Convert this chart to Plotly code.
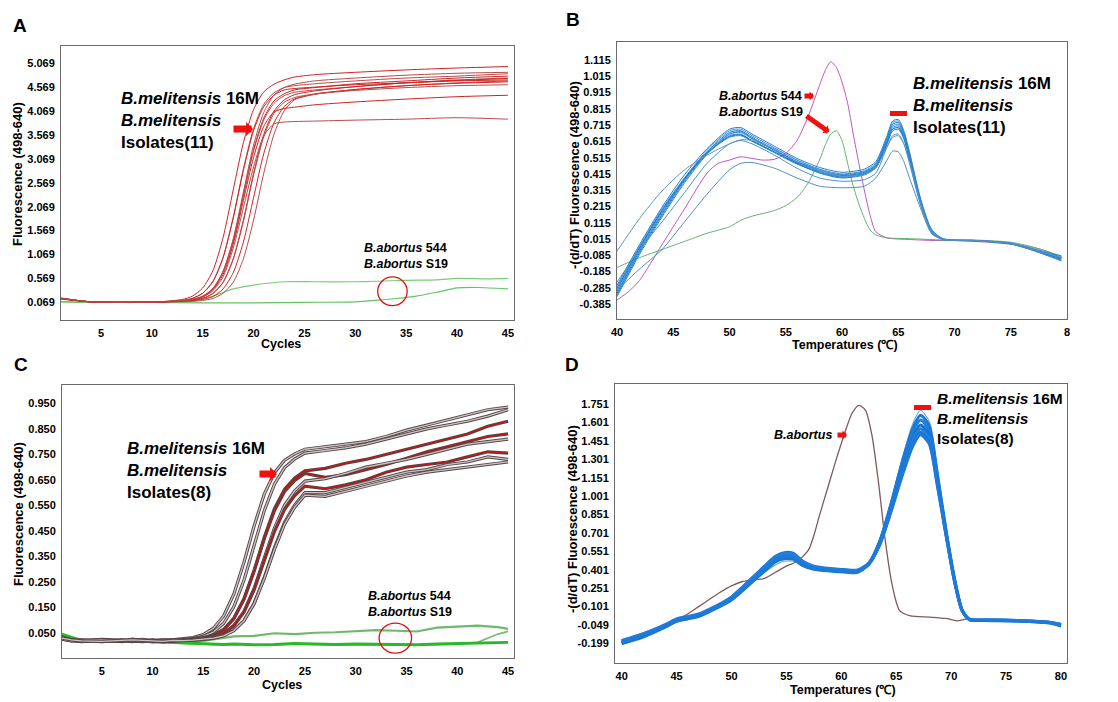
import plotly.graph_objects as go

W, H = 1118, 702
FONT = "Liberation Sans, Arial, sans-serif"

# ---------------- Panel A : amplification curves ----------------
a_cycles = [1, 4, 8, 11, 13, 14, 15, 16, 17, 18, 19, 20, 21, 22, 23, 24, 26, 30, 35, 40, 45]
a_melitensis = [
    [0.15, 0.08, 0.07, 0.085, 0.13, 0.20, 0.37, 0.73, 1.42, 2.42, 3.41, 4.10, 4.47, 4.63, 4.72, 4.78, 4.83, 4.88, 4.93, 4.97, 5.00],
    [0.16, 0.08, 0.07, 0.08, 0.11, 0.155, 0.26, 0.51, 1.01, 1.85, 2.86, 3.70, 4.21, 4.45, 4.56, 4.60, 4.64, 4.70, 4.76, 4.80, 4.85],
    [0.15, 0.075, 0.07, 0.08, 0.10, 0.13, 0.195, 0.35, 0.71, 1.36, 2.32, 3.27, 3.92, 4.28, 4.43, 4.51, 4.56, 4.64, 4.70, 4.76, 4.80],
    [0.14, 0.08, 0.07, 0.085, 0.10, 0.13, 0.19, 0.35, 0.70, 1.35, 2.29, 3.23, 3.88, 4.23, 4.39, 4.46, 4.51, 4.58, 4.66, 4.72, 4.76],
    [0.15, 0.08, 0.065, 0.08, 0.09, 0.11, 0.15, 0.26, 0.49, 0.98, 1.79, 2.77, 3.58, 4.07, 4.30, 4.41, 4.49, 4.58, 4.66, 4.71, 4.75],
    [0.16, 0.075, 0.07, 0.08, 0.09, 0.11, 0.15, 0.25, 0.48, 0.97, 1.76, 2.73, 3.53, 4.02, 4.25, 4.35, 4.43, 4.52, 4.60, 4.66, 4.70],
    [0.15, 0.08, 0.07, 0.08, 0.09, 0.10, 0.13, 0.19, 0.35, 0.69, 1.33, 2.26, 3.18, 3.82, 4.16, 4.32, 4.42, 4.52, 4.60, 4.65, 4.68],
    [0.14, 0.08, 0.07, 0.08, 0.085, 0.09, 0.11, 0.15, 0.26, 0.49, 0.98, 1.79, 2.77, 3.58, 4.07, 4.30, 4.42, 4.50, 4.56, 4.60, 4.62],
    [0.15, 0.08, 0.07, 0.08, 0.11, 0.15, 0.26, 0.50, 1.00, 1.83, 2.83, 3.66, 4.16, 4.40, 4.51, 4.54, 4.57, 4.62, 4.66, 4.70, 4.72],
    [0.16, 0.08, 0.07, 0.085, 0.10, 0.13, 0.20, 0.36, 0.72, 1.40, 2.38, 3.36, 4.04, 4.40, 4.56, 4.63, 4.70, 4.76, 4.82, 4.86, 4.88],
    [0.15, 0.08, 0.07, 0.08, 0.10, 0.12, 0.18, 0.33, 0.65, 1.28, 2.20, 3.10, 3.75, 4.05, 4.12, 4.15, 4.20, 4.26, 4.32, 4.37, 4.40],
    [0.15, 0.08, 0.07, 0.08, 0.10, 0.12, 0.18, 0.31, 0.60, 1.20, 2.05, 2.90, 3.55, 3.80, 3.84, 3.85, 3.86, 3.88, 3.90, 3.93, 3.90],
]
a_544_cycles = [1, 4, 8, 11, 13, 14, 16, 18, 20, 23, 26, 30, 32, 35, 38, 40, 43, 45]
a_544 = [0.08, 0.07, 0.07, 0.075, 0.09, 0.12, 0.20, 0.35, 0.43, 0.50, 0.50, 0.50, 0.51, 0.53, 0.54, 0.57, 0.56, 0.57]
a_s19_cycles = [1, 5, 10, 15, 20, 25, 30, 32, 34, 36, 38, 40, 42, 45]
a_s19 = [0.08, 0.07, 0.07, 0.06, 0.06, 0.07, 0.08, 0.11, 0.15, 0.20, 0.28, 0.37, 0.38, 0.35]
a_yticks = [5.069, 4.569, 4.069, 3.569, 3.069, 2.569, 2.069, 1.569, 1.069, 0.569, 0.069]
a_xticks = [5, 10, 15, 20, 25, 30, 35, 40, 45]

# ---------------- Panel B : melting curves ----------------
b_temps = [40, 42, 44, 46, 48, 50, 51, 52, 54, 56, 58, 60, 62, 63, 64, 64.5, 65, 65.5, 66, 67, 68, 69, 72, 75, 77, 79.5]
b_melitensis = [
    [-0.27, -0.02, 0.21, 0.41, 0.57, 0.69, 0.70, 0.66, 0.585, 0.51, 0.455, 0.425, 0.445, 0.49, 0.65, 0.74, 0.75, 0.68, 0.55, 0.26, 0.07, 0.017, 0.006, -0.01, -0.045, -0.09],
    [-0.30, -0.04, 0.19, 0.39, 0.56, 0.68, 0.69, 0.65, 0.575, 0.50, 0.445, 0.415, 0.435, 0.48, 0.64, 0.73, 0.74, 0.67, 0.54, 0.25, 0.065, 0.015, 0.005, -0.012, -0.05, -0.10],
    [-0.32, -0.06, 0.17, 0.38, 0.55, 0.67, 0.68, 0.64, 0.565, 0.49, 0.44, 0.405, 0.425, 0.47, 0.63, 0.72, 0.73, 0.66, 0.53, 0.245, 0.06, 0.013, 0.004, -0.014, -0.052, -0.11],
    [-0.28, -0.03, 0.20, 0.39, 0.55, 0.66, 0.67, 0.63, 0.56, 0.485, 0.43, 0.40, 0.42, 0.465, 0.62, 0.71, 0.72, 0.65, 0.52, 0.24, 0.06, 0.014, 0.005, -0.012, -0.048, -0.095],
    [-0.33, -0.07, 0.16, 0.37, 0.54, 0.65, 0.66, 0.62, 0.55, 0.48, 0.425, 0.395, 0.415, 0.46, 0.61, 0.70, 0.71, 0.645, 0.515, 0.235, 0.055, 0.012, 0.004, -0.015, -0.055, -0.115],
    [-0.31, -0.05, 0.18, 0.38, 0.54, 0.64, 0.65, 0.615, 0.545, 0.475, 0.425, 0.40, 0.42, 0.46, 0.60, 0.69, 0.70, 0.64, 0.51, 0.23, 0.055, 0.013, 0.005, -0.013, -0.05, -0.10],
    [-0.29, -0.04, 0.19, 0.385, 0.545, 0.645, 0.655, 0.62, 0.55, 0.48, 0.42, 0.39, 0.41, 0.455, 0.60, 0.68, 0.69, 0.63, 0.50, 0.225, 0.05, 0.012, 0.004, -0.014, -0.05, -0.105],
    [-0.34, -0.08, 0.15, 0.36, 0.535, 0.66, 0.675, 0.635, 0.56, 0.49, 0.435, 0.41, 0.43, 0.47, 0.615, 0.69, 0.70, 0.64, 0.51, 0.235, 0.055, 0.012, 0.004, -0.016, -0.056, -0.12],
    [-0.06, 0.14, 0.31, 0.44, 0.53, 0.60, 0.625, 0.62, 0.57, 0.50, 0.44, 0.40, 0.41, 0.45, 0.58, 0.64, 0.65, 0.60, 0.49, 0.23, 0.055, 0.013, 0.005, -0.012, -0.05, -0.10],
    [-0.30, -0.17, -0.05, 0.12, 0.29, 0.44, 0.48, 0.485, 0.45, 0.39, 0.34, 0.33, 0.34, 0.39, 0.50, 0.555, 0.55, 0.49, 0.39, 0.20, 0.045, 0.012, 0.005, -0.012, -0.05, -0.10],
    [-0.25, -0.05, 0.12, 0.30, 0.48, 0.60, 0.62, 0.60, 0.53, 0.45, 0.39, 0.37, 0.38, 0.42, 0.58, 0.65, 0.66, 0.60, 0.48, 0.22, 0.05, 0.012, 0.005, -0.012, -0.05, -0.10],
]
b_544_temps = [40, 41, 42, 44, 46, 48, 49, 50, 51, 52, 53, 54, 55, 56, 57, 58, 58.5, 59, 59.5, 60, 60.5, 61, 61.5, 62, 62.5, 63, 64, 66, 68, 70, 73, 76, 78, 79.5]
b_544 = [-0.36, -0.31, -0.24, -0.02, 0.20, 0.42, 0.48, 0.50, 0.52, 0.51, 0.50, 0.505, 0.54, 0.62, 0.77, 0.96, 1.05, 1.105, 1.07, 0.98, 0.85, 0.66, 0.48, 0.31, 0.16, 0.06, 0.022, 0.012, 0.006, 0.005, -0.005, -0.025, -0.055, -0.10]
b_s19_temps = [40, 42, 44, 46, 48, 50, 51, 52, 54, 55, 56, 57, 58, 58.5, 59, 59.5, 60, 60.5, 61, 61.5, 62, 62.5, 63, 64, 66, 69, 72, 75, 77, 79.5]
b_s19 = [-0.16, -0.10, -0.05, 0.0, 0.05, 0.09, 0.13, 0.155, 0.19, 0.22, 0.27, 0.36, 0.50, 0.59, 0.66, 0.68, 0.62, 0.48, 0.34, 0.23, 0.14, 0.07, 0.04, 0.022, 0.017, 0.009, 0.008, -0.005, -0.035, -0.09]
b_yticks = [1.115, 1.015, 0.915, 0.815, 0.715, 0.615, 0.515, 0.415, 0.315, 0.215, 0.115, 0.015, -0.085, -0.185, -0.285, -0.385]
b_xticks = [40, 45, 50, 55, 60, 65, 70, 75, 80]
b_xticktext = ["40", "45", "50", "55", "60", "65", "70", "75", "8"]

# ---------------- Panel C : amplification curves ----------------
c_cycles = [1, 2, 3, 5, 7, 8, 9, 10, 11, 12, 13, 14, 15, 16, 17, 18, 19, 20, 21, 22, 23, 24, 25, 27, 29, 31, 33, 35, 37, 39, 41, 43, 45]
c_melitensis = [
    [0.030, 0.020, 0.018, 0.022, 0.015, 0.025, 0.020, 0.015, 0.018, 0.022, 0.025, 0.031, 0.043, 0.068, 0.116, 0.201, 0.326, 0.469, 0.594, 0.678, 0.727, 0.752, 0.770, 0.78, 0.79, 0.80, 0.82, 0.845, 0.865, 0.885, 0.905, 0.925, 0.935],
    [0.035, 0.022, 0.015, 0.020, 0.018, 0.022, 0.016, 0.020, 0.014, 0.020, 0.022, 0.027, 0.036, 0.053, 0.087, 0.152, 0.256, 0.393, 0.529, 0.633, 0.698, 0.732, 0.755, 0.765, 0.775, 0.79, 0.81, 0.83, 0.85, 0.865, 0.88, 0.90, 0.925],
    [0.025, 0.020, 0.022, 0.018, 0.020, 0.015, 0.022, 0.018, 0.020, 0.020, 0.022, 0.025, 0.030, 0.041, 0.063, 0.107, 0.183, 0.295, 0.425, 0.537, 0.613, 0.657, 0.685, 0.695, 0.715, 0.73, 0.75, 0.77, 0.79, 0.81, 0.83, 0.86, 0.88],
    [0.030, 0.018, 0.020, 0.015, 0.022, 0.020, 0.018, 0.022, 0.015, 0.018, 0.021, 0.025, 0.030, 0.040, 0.062, 0.105, 0.181, 0.291, 0.419, 0.529, 0.604, 0.648, 0.675, 0.66, 0.67, 0.69, 0.71, 0.735, 0.76, 0.78, 0.80, 0.82, 0.83],
    [0.028, 0.022, 0.018, 0.020, 0.016, 0.020, 0.024, 0.018, 0.020, 0.016, 0.020, 0.022, 0.026, 0.033, 0.048, 0.078, 0.134, 0.224, 0.343, 0.461, 0.551, 0.607, 0.645, 0.655, 0.675, 0.70, 0.715, 0.73, 0.75, 0.77, 0.79, 0.80, 0.81],
    [0.032, 0.020, 0.016, 0.024, 0.020, 0.018, 0.015, 0.020, 0.022, 0.020, 0.020, 0.022, 0.026, 0.033, 0.047, 0.077, 0.131, 0.218, 0.333, 0.447, 0.534, 0.588, 0.625, 0.615, 0.63, 0.65, 0.68, 0.70, 0.71, 0.72, 0.74, 0.76, 0.755],
    [0.026, 0.018, 0.020, 0.022, 0.018, 0.020, 0.018, 0.016, 0.020, 0.018, 0.019, 0.021, 0.024, 0.029, 0.039, 0.059, 0.098, 0.166, 0.267, 0.383, 0.484, 0.552, 0.600, 0.60, 0.62, 0.64, 0.66, 0.68, 0.69, 0.71, 0.72, 0.74, 0.73],
    [0.030, 0.022, 0.018, 0.016, 0.020, 0.022, 0.020, 0.018, 0.016, 0.020, 0.019, 0.021, 0.024, 0.029, 0.038, 0.058, 0.097, 0.164, 0.263, 0.377, 0.476, 0.543, 0.590, 0.585, 0.605, 0.625, 0.645, 0.665, 0.68, 0.69, 0.70, 0.71, 0.72],
]
c_highlight = [False, False, True, True, False, True, False, False]
c_green_cycles = [1, 3, 5, 8, 10, 12, 14, 15, 16, 17, 18, 20, 22, 24, 26, 28, 30, 32, 34, 36, 38, 40, 42, 44, 45]
c_544 = [0.04, 0.02, 0.015, 0.02, 0.012, 0.015, 0.012, 0.018, 0.025, 0.032, 0.036, 0.038, 0.048, 0.045, 0.05, 0.052, 0.055, 0.06, 0.058, 0.055, 0.07, 0.075, 0.078, 0.072, 0.065]
c_s19 = [0.045, 0.02, 0.015, 0.02, 0.015, 0.012, 0.01, 0.008, 0.005, 0.004, 0.006, 0.003, 0.004, 0.008, 0.006, 0.004, 0.006, 0.005, 0.004, 0.003, 0.006, 0.008, 0.010, 0.012, 0.012]
c_s19_b = [0.04, 0.018, 0.012, 0.018, 0.012, 0.010, 0.008, 0.006, 0.004, 0.003, 0.005, 0.002, 0.003, 0.006, 0.005, 0.003, 0.005, 0.004, 0.003, 0.002, 0.004, 0.006, 0.012, 0.045, 0.055]
c_yticks = [0.950, 0.850, 0.750, 0.650, 0.550, 0.450, 0.350, 0.250, 0.150, 0.050]
c_xticks = [5, 10, 15, 20, 25, 30, 35, 40, 45]

# ---------------- Panel D : melting curves ----------------
d_temps = [40, 42, 44, 45, 46, 47, 48, 50, 52, 53, 54, 54.8, 55.6, 56.5, 57.5, 59, 60.5, 61.5, 62.5, 63.5, 64.5, 65.5, 66.5, 67.2, 68, 68.7, 69.5, 70.3, 71, 71.7, 73, 76, 79, 80]
d_melitensis = [
    [-0.19, -0.13, -0.055, -0.01, 0.01, 0.03, 0.07, 0.165, 0.31, 0.38, 0.44, 0.47, 0.47, 0.44, 0.415, 0.40, 0.39, 0.39, 0.456, 0.643, 0.951, 1.292, 1.589, 1.70, 1.611, 1.237, 0.753, 0.33, 0.075, -0.005, -0.01, -0.014, -0.03, -0.05],
    [-0.18, -0.12, -0.05, -0.005, 0.015, 0.035, 0.075, 0.18, 0.345, 0.43, 0.51, 0.54, 0.535, 0.47, 0.43, 0.41, 0.40, 0.40, 0.455, 0.635, 0.93, 1.265, 1.55, 1.66, 1.575, 1.21, 0.74, 0.33, 0.075, -0.005, -0.008, -0.012, -0.028, -0.045],
    [-0.19, -0.13, -0.055, -0.01, 0.01, 0.03, 0.07, 0.17, 0.33, 0.41, 0.49, 0.52, 0.515, 0.455, 0.42, 0.40, 0.39, 0.39, 0.452, 0.628, 0.917, 1.238, 1.517, 1.62, 1.538, 1.186, 0.731, 0.325, 0.07, -0.005, -0.01, -0.014, -0.03, -0.05],
    [-0.20, -0.14, -0.06, -0.015, 0.005, 0.025, 0.065, 0.16, 0.32, 0.40, 0.475, 0.50, 0.495, 0.44, 0.41, 0.395, 0.385, 0.385, 0.445, 0.615, 0.895, 1.205, 1.475, 1.58, 1.50, 1.16, 0.72, 0.32, 0.07, -0.005, -0.012, -0.016, -0.032, -0.055],
    [-0.175, -0.12, -0.045, 0.0, 0.02, 0.04, 0.08, 0.175, 0.34, 0.42, 0.50, 0.53, 0.525, 0.465, 0.425, 0.405, 0.395, 0.395, 0.449, 0.614, 0.887, 1.19, 1.453, 1.55, 1.472, 1.141, 0.712, 0.312, 0.068, -0.003, -0.008, -0.012, -0.026, -0.045],
    [-0.20, -0.145, -0.065, -0.02, 0.0, 0.02, 0.06, 0.155, 0.31, 0.39, 0.465, 0.49, 0.487, 0.435, 0.405, 0.39, 0.38, 0.38, 0.447, 0.608, 0.875, 1.169, 1.426, 1.52, 1.444, 1.122, 0.704, 0.31, 0.068, -0.007, -0.012, -0.017, -0.034, -0.058],
    [-0.185, -0.125, -0.05, -0.005, 0.015, 0.035, 0.07, 0.165, 0.325, 0.405, 0.485, 0.51, 0.505, 0.45, 0.415, 0.398, 0.388, 0.388, 0.446, 0.605, 0.866, 1.155, 1.407, 1.50, 1.426, 1.108, 0.698, 0.31, 0.068, -0.004, -0.01, -0.013, -0.029, -0.048],
]
d_abortus_temps = [40, 42, 44, 45, 46, 47, 48, 49, 50, 51, 52, 53, 54, 55, 56, 57, 57.5, 58, 58.5, 59, 59.5, 60, 60.5, 61, 61.6, 62.2, 62.8, 63.4, 64, 64.6, 65.3, 66.3, 68, 69.5, 70.5, 71.5, 73, 76, 79, 80]
d_abortus = [-0.19, -0.13, -0.055, -0.01, 0.04, 0.10, 0.16, 0.22, 0.27, 0.305, 0.32, 0.33, 0.38, 0.43, 0.47, 0.56, 0.68, 0.84, 0.99, 1.14, 1.29, 1.43, 1.566, 1.68, 1.74, 1.70, 1.49, 1.10, 0.64, 0.29, 0.07, 0.025, 0.015, 0.004, -0.015, 0.0, -0.01, -0.014, -0.03, -0.05]
d_yticks = [1.751, 1.601, 1.451, 1.301, 1.151, 1.001, 0.851, 0.701, 0.551, 0.401, 0.251, 0.101, -0.049, -0.199]
d_xticks = [40, 45, 50, 55, 60, 65, 70, 75, 80]

# ---------------- build figure ----------------
fig = go.Figure()

def line(x, y, xa, ya, color, width, shape="spline"):
    fig.add_trace(go.Scatter(x=x, y=y, xaxis=xa, yaxis=ya, mode="lines",
                             line=dict(color=color, width=width, shape=shape, smoothing=0.7 if shape == "spline" else None),
                             hoverinfo="skip", showlegend=False))

# A
line(a_544_cycles, a_544, "x", "y", "rgb(120,205,120)", 1.2)
line(a_s19_cycles, a_s19, "x", "y", "rgb(100,195,100)", 1.2)
for i, ys in enumerate(a_melitensis):
    line(a_cycles, ys, "x", "y", "rgb(205,35,35)" if i % 2 == 0 else "rgb(185,75,75)", 1)

# B
line(b_544_temps, b_544, "x2", "y2", "rgb(190,85,200)", 1)
line(b_s19_temps, b_s19, "x2", "y2", "rgb(95,180,110)", 1)
b_cols = ["rgb(30,125,210)", "rgb(60,145,205)", "rgb(25,115,205)", "rgb(70,150,210)",
          "rgb(35,130,215)", "rgb(50,140,200)", "rgb(20,120,210)", "rgb(45,135,210)",
          "rgb(95,150,195)", "rgb(85,140,190)", "rgb(75,145,200)"]
for ys, col in zip(b_melitensis, b_cols):
    line(b_temps, ys, "x2", "y2", col, 1)

# C
line(c_green_cycles, c_544, "x3", "y3", "rgb(110,185,110)", 2.2, "linear")
line(c_green_cycles, c_s19_b, "x3", "y3", "rgb(120,190,120)", 1.8, "linear")
line(c_green_cycles, c_s19, "x3", "y3", "rgb(40,185,40)", 2.8, "linear")
for ys, hl in zip(c_melitensis, c_highlight):
    line(c_cycles, ys, "x3", "y3", "rgb(85,70,72)", 3.2, "linear")
    line(c_cycles, ys, "x3", "y3", "rgb(200,20,20)" if hl else "rgb(205,195,195)", 1.3, "linear")

# D
line(d_abortus_temps, d_abortus, "x4", "y4", "rgb(125,90,92)", 1.3)
d_cols = ["rgb(120,165,200)", "rgb(25,120,215)", "rgb(30,125,220)", "rgb(20,115,210)",
          "rgb(35,128,218)", "rgb(25,118,212)", "rgb(30,122,216)"]
d_wid = [1.2, 3, 3, 3, 3, 3, 3]
for ys, col, wd in zip(d_melitensis, d_cols, d_wid):
    line(d_temps, ys, "x4", "y4", col, wd)

def axis(domain, rng, tickvals, ticktext, anchor):
    return dict(domain=domain, range=rng, tickvals=tickvals, ticktext=ticktext, anchor=anchor,
                showline=True, mirror=True, linecolor="#6a6a6a", linewidth=1, ticks="",
                showgrid=False, zeroline=False, fixedrange=True, ticklabelstandoff=3,
                automargin=False,
                tickfont=dict(family=FONT, size=11, color="black", weight="bold"))

def fmt(vals, n):
    return [f"{v:.{n}f}" for v in vals]

def px(x):
    return x / W

def py(y):
    return 1 - y / H

fig.update_layout(
    width=W, height=H, margin=dict(l=0, r=0, t=0, b=0, pad=0), autosize=False,
    paper_bgcolor="white", plot_bgcolor="white",
    xaxis=axis([px(61), px(514)], [1.07, 45.6], a_xticks, [str(v) for v in a_xticks], "y"),
    yaxis=axis([py(320), py(46)], [-0.30, 5.43], a_yticks, fmt(a_yticks, 3), "x"),
    xaxis2=axis([px(617), px(1067)], [40, 80], b_xticks, b_xticktext, "y2"),
    yaxis2=axis([py(319), py(42)], [-0.477, 1.226], b_yticks, fmt(b_yticks, 3), "x2"),
    xaxis3=axis([px(62), px(514)], [1.09, 45.58], c_xticks, [str(v) for v in c_xticks], "y3"),
    yaxis3=axis([py(658), py(385)], [-0.049, 1.022], c_yticks, fmt(c_yticks, 3), "x3"),
    xaxis4=axis([px(615), px(1067)], [39.39, 80.55], d_xticks, [str(v) for v in d_xticks], "y4"),
    yaxis4=axis([py(663), py(384)], [-0.359, 1.914], d_yticks, fmt(d_yticks, 3), "x4"),
)

ann = []

def text(x, y, s, size, xanchor="left", angle=0):
    ann.append(dict(x=px(x), y=py(y), xref="paper", yref="paper", text=s, showarrow=False,
                    xanchor=xanchor, yanchor="middle", align="left", textangle=angle,
                    font=dict(family=FONT, size=size, color="black")))

def arrow(x_tip, y_tip, dx, dy, width, size):
    ann.append(dict(x=px(x_tip), y=py(y_tip), xref="paper", yref="paper", text="",
                    showarrow=True, ax=dx, ay=dy, arrowhead=1, arrowsize=size,
                    arrowwidth=width, arrowcolor="#f01010", standoff=0, startstandoff=0))

# panel letters
text(20, 25, "<b>A</b>", 19, "center")
text(573, 20, "<b>B</b>", 19, "center")
text(21, 364, "<b>C</b>", 19, "center")
text(572, 364, "<b>D</b>", 19, "center")

# axis titles
text(281, 344, "<b>Cycles</b>", 12.5, "center")
text(845, 345, "<b>Temperatures (℃)</b>", 12.5, "center")
text(282, 685, "<b>Cycles</b>", 12.5, "center")
text(843, 690, "<b>Temperatures (℃)</b>", 12.5, "center")
text(17, 174, "<b>Fluorescence (498-640)</b>", 13, "center", -90)
text(574, 175, "<b>-(d/dT) Fluorescence (498-640)</b>", 13, "center", -90)
text(18, 514, "<b>Fluorescence (498-640)</b>", 13, "center", -90)
text(572, 519, "<b>-(d/dT) Fluorescence (498-640)</b>", 13, "center", -90)

mel = "<b><i>B.melitensis</i> 16M</b><br><b><i>B.melitensis</i></b><br><b>Isolates({})</b>"
abo = "<b><i>B.abortus</i> 544</b><br><b><i>B.abortus</i> S19</b>"
text(119, 121, mel.format(11), 17)
text(362, 256, abo, 12.5)
text(911, 105, mel.format(11), 17)
text(717, 104, abo, 12.5)
text(125, 470, mel.format(8), 17)
text(366, 604, abo, 12.5)
text(935, 419, mel.format(8), 15.5)
text(772, 435, "<b><i>B.abortus</i></b>", 12.5)

arrow(253, 129, -21, 0, 7, 0.33)
arrow(814, 96, -11, 0, 5, 0.3)
arrow(829, 132, -24, -17, 5, 0.32)
arrow(277, 474, -19, 0, 7, 0.33)
arrow(847, 435, -11, 0, 5, 0.3)

fig.update_layout(annotations=ann)

shapes = [
    dict(type="rect", xref="paper", yref="paper", x0=px(890), x1=px(907), y0=py(116), y1=py(111),
         fillcolor="#f01010", line=dict(width=0)),
    dict(type="rect", xref="paper", yref="paper", x0=px(914), x1=px(931), y0=py(410), y1=py(405),
         fillcolor="#f01010", line=dict(width=0)),
    dict(type="circle", xref="x", yref="y", x0=32.2, x1=35.1, y0=0.0, y1=0.60,
         line=dict(color="#e01010", width=1.3)),
    dict(type="circle", xref="x3", yref="y3", x0=32.3, x1=35.5, y0=-0.03, y1=0.088,
         line=dict(color="#e01010", width=1.3)),
]
fig.update_layout(shapes=shapes)

fig.write_html("out.html", config={"displayModeBar": False},
               post_script="document.body.style.margin='0px';document.body.style.overflow='hidden';")
